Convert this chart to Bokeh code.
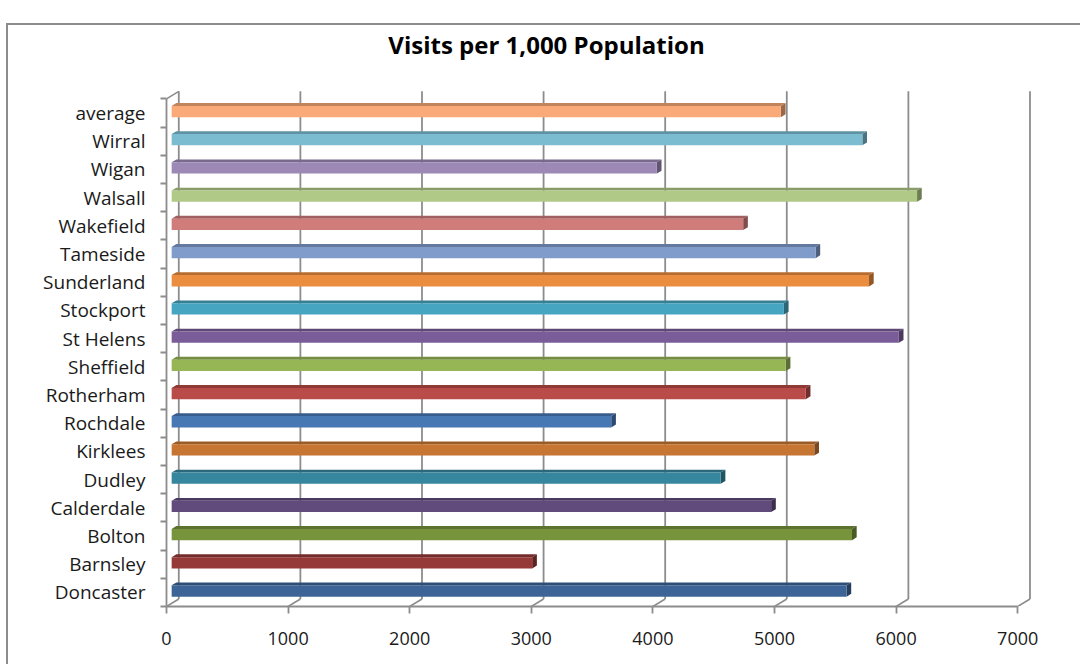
from bokeh.plotting import figure
from bokeh.models import Range1d, LinearAxis, FixedTicker, Label, ColumnDataSource
from bokeh.embed import file_html
from bokeh.resources import INLINE

# ---- data ----
categories = ["Doncaster", "Barnsley", "Bolton", "Calderdale", "Dudley", "Kirklees",
              "Rochdale", "Rotherham", "Sheffield", "St Helens", "Stockport",
              "Sunderland", "Tameside", "Wakefield", "Walsall", "Wigan", "Wirral", "average"]
visits = [5550, 2965, 5595, 4930, 4515, 5285, 3615, 5215, 5050, 5980, 5035,
          5735, 5295, 4700, 6130, 3990, 5680, 5010]
bar_colors = ["#3C6496", "#953A38", "#77933C", "#614B7C", "#36869D", "#C67533",
              "#4878B4", "#B94B48", "#96B655", "#7A5C98", "#46A5C0",
              "#EB8D3F", "#7F9CCB", "#CF7C7B", "#B0C987", "#9C89B5", "#7BBCD0", "#F9AA78"]
x_ticks = [0, 1000, 2000, 3000, 4000, 5000, 6000, 7000]
title_text = "Visits per 1,000 Population"

# ---- style / geometry constants ----
FONT = "Open Sans"
GRID = "#8c8c8c"
X_END = 7352
Y_END = 20.60
DX = 101.0      # 3-D depth offset (value units)
DY = 0.266      # 3-D depth offset (category units)
N = len(categories)


def shade(hexcol, f):
    h = hexcol.lstrip("#")
    r, g, b = (int(h[i:i + 2], 16) for i in (0, 2, 4))
    return "#%02x%02x%02x" % (int(r * f), int(g * f), int(b * f))


p = figure(width=1074, height=641, output_backend="svg", toolbar_location=None,
           title=None, title_location=None,
           x_range=Range1d(0, X_END), y_range=Range1d(0, Y_END),
           x_axis_location=None, y_axis_location=None,
           min_border_left=158, min_border_right=22, min_border_top=0, min_border_bottom=60,
           background_fill_color="white", border_fill_color="white")
p.margin = (23, 0, 0, 6)
p.styles = {"border-left": "2px solid #8c8c8c", "border-top": "2px solid #8c8c8c"}
p.grid.visible = False
p.outline_line_color = None

# title
p.add_layout(Label(x=3125, y=19.93, text=title_text, text_align="center",
                   text_baseline="middle", text_font=FONT, text_font_size="24px",
                   text_font_style="bold", text_color="#000000"))

# back wall gridlines
gx = [t + DX for t in x_ticks]
p.segment(x0=gx, y0=[DY] * len(gx), x1=gx, y1=[N + DY] * len(gx),
          line_color=GRID, line_width=1.8)
# floor diagonals
p.segment(x0=x_ticks, y0=[0] * len(x_ticks), x1=gx, y1=[DY] * len(gx),
          line_color=GRID, line_width=1.6)
# top-left wall diagonal
p.segment(x0=[0], y0=[N], x1=[DX], y1=[N + DY], line_color=GRID, line_width=1.6)

# bars (3-D look: front face + top face + side face)
OX = 0.42 * DX
DD_X = 0.38 * DX
DD_Y = 0.38 * DY
H = 0.40
centers = [i + 0.5 for i in range(N)]
ybot = [c + 0.05 - H / 2 for c in centers]
ytop = [c + 0.05 + H / 2 for c in centers]
xend = [v + OX for v in visits]

top_xs = [[OX, e, e + DD_X, OX + DD_X] for e in xend]
top_ys = [[t, t, t + DD_Y, t + DD_Y] for t in ytop]
side_xs = [[e, e + DD_X, e + DD_X, e] for e in xend]
side_ys = [[b, b + DD_Y, t + DD_Y, t] for b, t in zip(ybot, ytop)]

p.patches(xs=top_xs, ys=top_ys, fill_color=[shade(c, 0.78) for c in bar_colors],
          line_color=None)
p.patches(xs=side_xs, ys=side_ys, fill_color=[shade(c, 0.62) for c in bar_colors],
          line_color=None)
src = ColumnDataSource(dict(left=[OX] * N, right=xend, bottom=ybot, top=ytop, color=bar_colors))
p.quad(left="left", right="right", bottom="bottom", top="top", fill_color="color",
       line_color=None, source=src)

# value axis (front)
xaxis = LinearAxis(ticker=FixedTicker(ticks=x_ticks, minor_ticks=[]), bounds=(0, 7000),
                   axis_line_color=GRID, axis_line_width=1.8,
                   major_tick_line_color=GRID, major_tick_line_width=1.8,
                   major_tick_out=7, major_tick_in=0,
                   major_label_text_font=FONT, major_label_text_font_size="18px",
                   major_label_text_color="#1a1a1a", major_label_standoff=18)
p.add_layout(xaxis, "below")

# category axis (front)
yaxis = LinearAxis(ticker=FixedTicker(ticks=centers, minor_ticks=list(range(N + 1))),
                   bounds=(0, N),
                   major_label_overrides={c: name for c, name in zip(centers, categories)},
                   axis_line_color=GRID, axis_line_width=1.8,
                   major_tick_out=0, major_tick_in=0,
                   minor_tick_line_color=GRID, minor_tick_line_width=1.8,
                   minor_tick_out=6, minor_tick_in=0,
                   major_label_text_font=FONT, major_label_text_font_size="19px",
                   major_label_text_color="#1a1a1a", major_label_standoff=15)
p.add_layout(yaxis, "left")

open("out.html", "w").write(file_html(p, INLINE))
